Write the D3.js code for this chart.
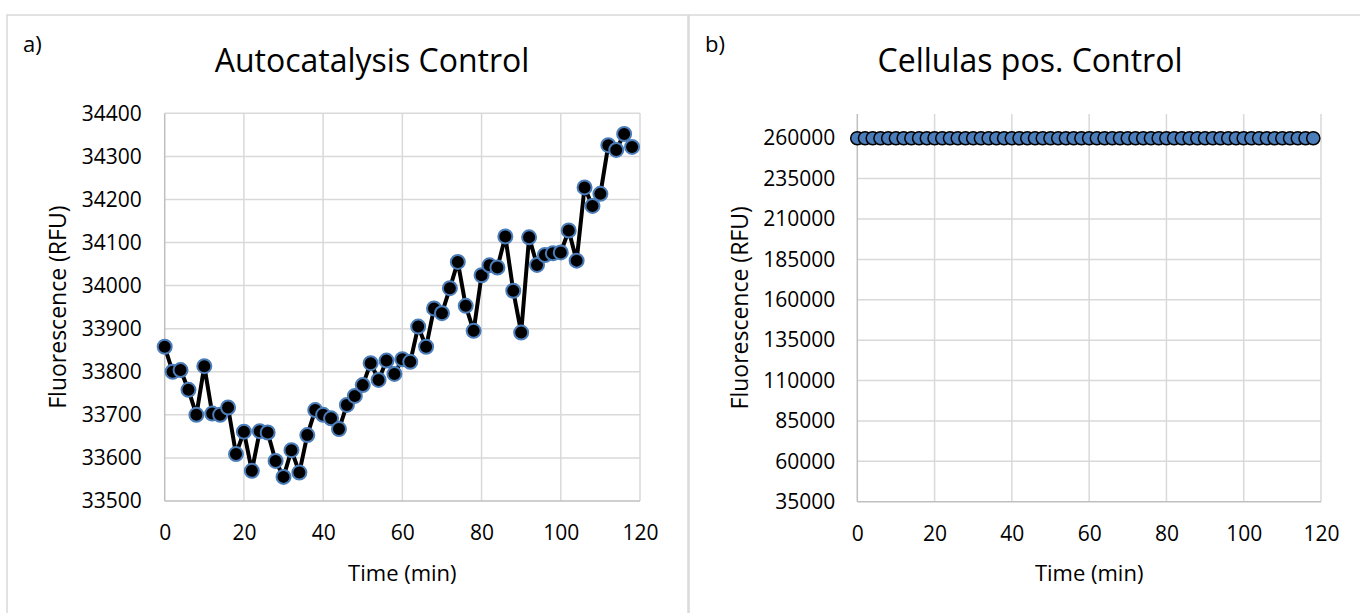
<!DOCTYPE html>
<html lang="en">
<head>
<meta charset="utf-8">
<title>Fluorescence controls</title>
<script src="https://d3js.org/d3.v7.min.js"></script>
<style>
  body { margin: 0; background: #fff; }
  svg text { font-family: "Open Sans", sans-serif; fill: #000; }
</style>
</head>
<body>
<div id="chart"></div>
<script>
// ---- data ----
var timeA = [0,2,4,6,8,10,12,14,16,18,20,22,24,26,28,30,32,34,36,38,
             40,42,44,46,48,50,52,54,56,58,60,62,64,66,68,70,72,74,76,78,
             80,82,84,86,88,90,92,94,96,98,100,102,104,106,108,110,112,114,116,118];
var fluorA = [33858,33800,33804,33758,33700,33813,33703,33700,33717,33609,
              33661,33570,33662,33659,33593,33556,33618,33566,33653,33711,
              33700,33692,33667,33723,33744,33769,33820,33781,33826,33795,
              33829,33823,33905,33858,33947,33936,33994,34055,33953,33895,
              34024,34047,34042,34114,33988,33891,34112,34048,34071,34075,
              34077,34128,34058,34228,34185,34213,34326,34315,34352,34322];
var timeB = [0,2,4,6,8,10,12,14,16,18,20,22,24,26,28,30,32,34,36,38,
             40,42,44,46,48,50,52,54,56,58,60,62,64,66,68,70,72,74,76,78,
             80,82,84,86,88,90,92,94,96,98,100,102,104,106,108,110,112,114,116,118];
var fluorB = [260000,260000,260000,260000,260000,260000,260000,260000,260000,260000,
              260000,260000,260000,260000,260000,260000,260000,260000,260000,260000,
              260000,260000,260000,260000,260000,260000,260000,260000,260000,260000,
              260000,260000,260000,260000,260000,260000,260000,260000,260000,260000,
              260000,260000,260000,260000,260000,260000,260000,260000,260000,260000,
              260000,260000,260000,260000,260000,260000,260000,260000,260000,260000];
var xTicks = [0,20,40,60,80,100,120];
var yTicksA = [33500,33600,33700,33800,33900,34000,34100,34200,34300,34400];
var yTicksB = [35000,60000,85000,110000,135000,160000,185000,210000,235000,260000];

var svg = d3.select("#chart").append("svg")
    .attr("width", 1360)
    .attr("height", 613);

// draws one framed chart panel
function drawPanel(p) {
  var g = svg.append("g");

  // chart area frame
  g.append("rect")
    .attr("x", p.frame[0]).attr("y", p.frame[1])
    .attr("width", p.frame[2]).attr("height", 700)
    .attr("fill", "#fff").attr("stroke", "#d9d9d9").attr("stroke-width", 1.5);

  var x = d3.scaleLinear().domain([0, 120]).range([p.left, p.right]);
  var y = d3.scaleLinear().domain(p.yDomain).range([p.bottom, p.top]);

  // gridlines
  g.selectAll(".hgrid").data(p.yTicks.slice(1)).enter().append("line")
    .attr("x1", p.left).attr("x2", p.right)
    .attr("y1", function(d) { return y(d); }).attr("y2", function(d) { return y(d); })
    .attr("stroke", "#d9d9d9").attr("stroke-width", 1.5);
  g.selectAll(".vgrid").data(xTicks.slice(1)).enter().append("line")
    .attr("x1", function(d) { return x(d); }).attr("x2", function(d) { return x(d); })
    .attr("y1", p.top).attr("y2", p.bottom)
    .attr("stroke", "#d9d9d9").attr("stroke-width", 1.5);

  // axis lines
  g.append("line").attr("x1", p.left).attr("x2", p.left).attr("y1", p.top).attr("y2", p.bottom)
    .attr("stroke", "#bfbfbf").attr("stroke-width", 1.5);
  g.append("line").attr("x1", p.left).attr("x2", p.right).attr("y1", p.bottom).attr("y2", p.bottom)
    .attr("stroke", "#bfbfbf").attr("stroke-width", 1.5);

  // tick labels
  var ya = g.append("g").attr("transform", "translate(" + p.left + ",0)")
    .call(d3.axisLeft(y).tickValues(p.yTicks).tickSize(0).tickPadding(p.yPad).tickFormat(d3.format("d")));
  var xa = g.append("g").attr("transform", "translate(0," + p.bottom + ")")
    .call(d3.axisBottom(x).tickValues(xTicks).tickSize(0).tickPadding(24));
  [ya, xa].forEach(function(a) {
    a.select(".domain").remove();
    a.selectAll("text").style("font-family", "'Open Sans', sans-serif").style("font-size", "21px").attr("fill", "#000");
  });

  // series
  var line = d3.line()
    .x(function(d, i) { return x(p.times[i]); })
    .y(function(d) { return y(d); });
  g.append("path").datum(p.values)
    .attr("d", line)
    .attr("fill", "none")
    .attr("stroke", p.lineColor)
    .attr("stroke-width", 4)
    .attr("stroke-linejoin", "round");
  g.selectAll(".dot").data(p.values).enter().append("circle")
    .attr("cx", function(d, i) { return x(p.times[i]); })
    .attr("cy", function(d) { return y(d); })
    .attr("r", p.dotR)
    .attr("fill", p.dotFill)
    .attr("stroke", p.dotStroke)
    .attr("stroke-width", p.dotStrokeW);

  // texts
  g.append("text").attr("x", p.titleX).attr("y", 72)
    .attr("text-anchor", "middle").style("font-size", "32px").text(p.title);
  g.append("text").attr("x", p.frame[0] + 16).attr("y", 52)
    .style("font-size", "22px").text(p.letter);
  g.append("text").attr("x", (p.left + p.right) / 2).attr("y", 581)
    .attr("text-anchor", "middle").style("font-size", "22px").text("Time (min)");
  g.append("text")
    .attr("transform", "translate(" + p.yTitleX + "," + (p.top + p.bottom) / 2 + ") rotate(-90)")
    .attr("text-anchor", "middle").attr("dy", "0.35em")
    .style("font-size", "23px").text("Fluorescence (RFU)");
}

drawPanel({
  frame: [7, 15, 681],
  left: 164.7, right: 640, top: 113.3, bottom: 501,
  yDomain: [33500, 34400], yTicks: yTicksA, yPad: 23,
  times: timeA, values: fluorA,
  lineColor: "#000", dotFill: "#000", dotStroke: "#4a7dba", dotStrokeW: 2, dotR: 7,
  title: "Autocatalysis Control", titleX: 372, letter: "a)", yTitleX: 58
});

drawPanel({
  frame: [689, 15, 672],
  left: 857.3, right: 1321, top: 114, bottom: 501.7,
  yDomain: [35000, 275000], yTicks: yTicksB, yPad: 22,
  times: timeB, values: fluorB,
  lineColor: "#4a7dba", dotFill: "#4a7dba", dotStroke: "#000", dotStrokeW: 1.5, dotR: 6.6,
  title: "Cellulas pos. Control", titleX: 1030, letter: "b)", yTitleX: 740
});
</script>
</body>
</html>
